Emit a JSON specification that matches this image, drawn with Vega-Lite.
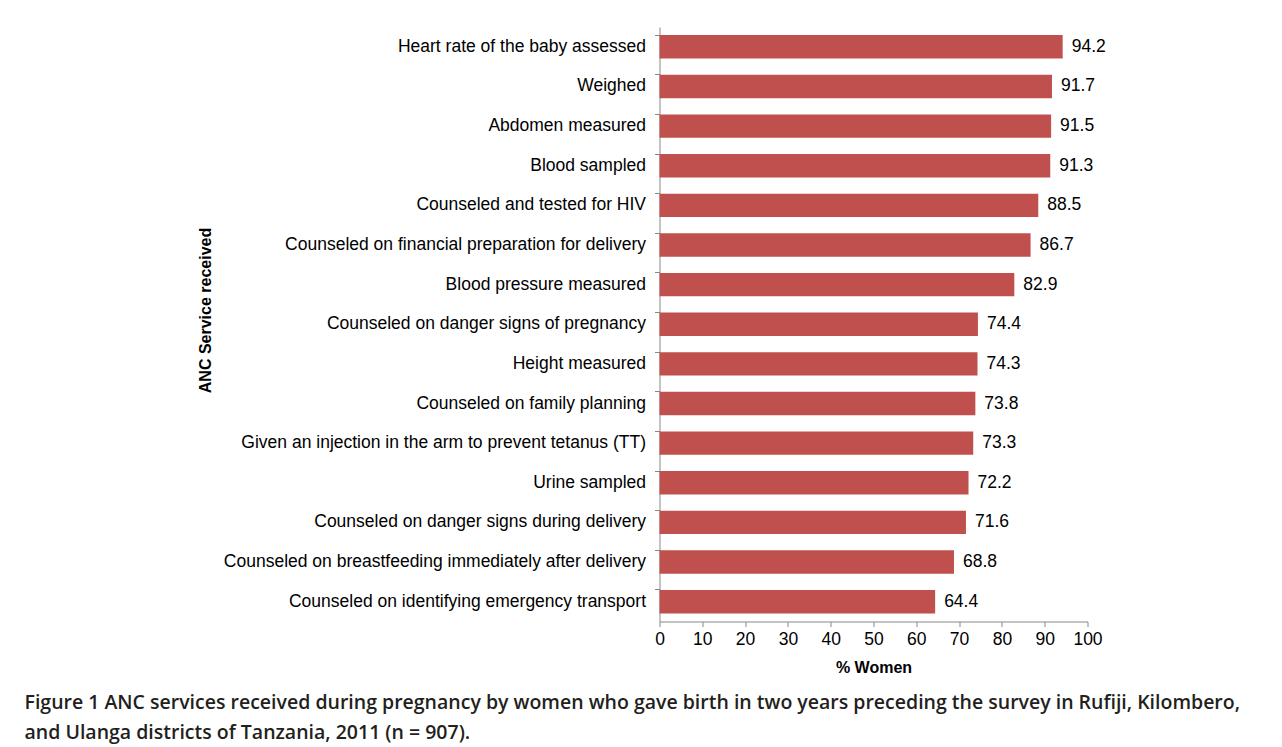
{
  "$schema": "https://vega.github.io/schema/vega-lite/v6.json",
  "autosize": {"type": "none"},
  "width": 428,
  "height": 594.5,
  "padding": {"left": 659.5, "top": 27, "right": 194.5, "bottom": 125.5},
  "background": "white",
  "config": {
    "view": {"stroke": null},
    "font": "Liberation Sans"
  },
  "title": {
    "text": ["Figure 1 ANC services received during pregnancy by women who gave birth in two years preceding the survey in Rufiji, Kilombero,", "and Ulanga districts of Tanzania, 2011 (n = 907)."],
    "orient": "bottom",
    "anchor": "start",
    "frame": "group",
    "dx": -635,
    "offset": 19,
    "font": "Open Sans",
    "fontSize": 19.5,
    "fontWeight": 600,
    "color": "#231f20",
    "lineHeight": 29.5
  },
  "data": {
    "values": [
      {"service": "Heart rate of the baby assessed", "pct": 94.2},
      {"service": "Weighed", "pct": 91.7},
      {"service": "Abdomen measured", "pct": 91.5},
      {"service": "Blood sampled", "pct": 91.3},
      {"service": "Counseled and tested for HIV", "pct": 88.5},
      {"service": "Counseled on financial preparation for delivery", "pct": 86.7},
      {"service": "Blood pressure measured", "pct": 82.9},
      {"service": "Counseled on danger signs of pregnancy", "pct": 74.4},
      {"service": "Height measured", "pct": 74.3},
      {"service": "Counseled on family planning", "pct": 73.8},
      {"service": "Given an injection in the arm to prevent tetanus (TT)", "pct": 73.3},
      {"service": "Urine sampled", "pct": 72.2},
      {"service": "Counseled on danger signs during delivery", "pct": 71.6},
      {"service": "Counseled on breastfeeding immediately after delivery", "pct": 68.8},
      {"service": "Counseled on identifying emergency transport", "pct": 64.4}
    ]
  },
  "encoding": {
    "y": {
      "field": "service",
      "type": "nominal",
      "sort": null,
      "scale": {"paddingInner": 0.41, "paddingOuter": 0.205},
      "axis": {
        "title": "ANC Service received",
        "titleFontSize": 16,
        "titleFontWeight": "bold",
        "titleColor": "#000000",
        "titleX": -446,
        "titleY": 283,
        "labelFontSize": 17.5,
        "labelColor": "#000000",
        "labelPadding": 9,
        "labelLimit": 600,
        "tickSize": 5,
        "tickColor": "#888888",
        "domainColor": "#888888",
        "bandPosition": 0
      }
    },
    "x": {
      "field": "pct",
      "type": "quantitative",
      "scale": {"domain": [0, 100], "nice": false},
      "axis": {
        "title": "% Women",
        "titleFontSize": 16,
        "titleFontWeight": "bold",
        "titleColor": "#000000",
        "titlePadding": 11,
        "values": [0, 10, 20, 30, 40, 50, 60, 70, 80, 90, 100],
        "labelFontSize": 17.5,
        "labelColor": "#000000",
        "labelPadding": 4,
        "labelFlush": false,
        "tickSize": 5,
        "tickColor": "#888888",
        "domainColor": "#888888",
        "grid": false
      }
    }
  },
  "layer": [
    {"mark": {"type": "bar", "color": "#C0504D"}},
    {
      "mark": {"type": "text", "align": "left", "dx": 9, "fontSize": 17.5, "color": "#000000"},
      "encoding": {"text": {"field": "pct", "type": "quantitative", "format": ".1f"}}
    }
  ]
}
